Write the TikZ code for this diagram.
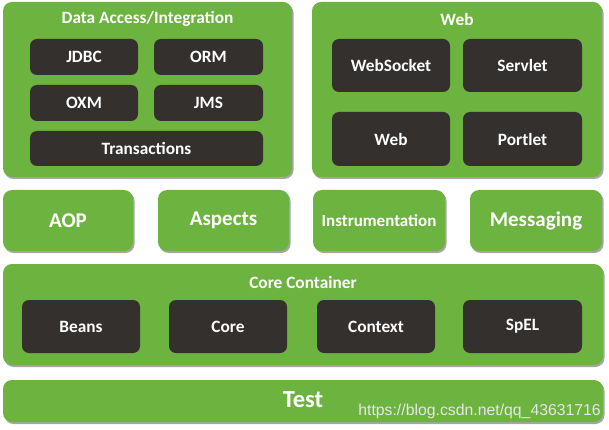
\documentclass[tikz,border=0pt]{standalone}
\usepackage{fontspec}
\setmainfont{Carlito}
\newfontfamily\wmfont{Liberation Sans}
\usetikzlibrary{shadows}
\definecolor{sgreen}{HTML}{6CB33F}
\definecolor{sdark}{HTML}{33302E}
\definecolor{wmgray}{HTML}{E6E6E6}
\tikzset{
  greenbox/.style={draw=none, fill=sgreen, rounded corners=9pt, inner sep=0pt,
    drop shadow={shadow xshift=1.5pt, shadow yshift=-2pt, opacity=0.35, fill=black}},
  darkbox/.style={draw=none, fill=sdark, rounded corners=7pt, inner sep=0pt,
    text=white, font=\bfseries\fontsize{17.3}{20}\selectfont},
  titletext/.style={text=white, inner sep=0pt, font=\bfseries\fontsize{17.3}{20}\selectfont},
  bigtext/.style={text=white, font=\bfseries\fontsize{21}{24}\selectfont}
}
\begin{document}
\begin{tikzpicture}[x=1pt,y=-1pt]
\useasboundingbox (0,0) rectangle (609,430);
% Data Access / Integration
\node[greenbox, minimum width=289pt, minimum height=175pt] (da) at (147.5,89.5) {};
\node[titletext] (datitle) at (147.5,19) {Data Access/Integration};
\node[darkbox, minimum width=108pt, minimum height=36pt] (jdbc) at (84,57) {JDBC};
\node[darkbox, minimum width=109pt, minimum height=36pt] (orm) at (208.5,57) {ORM};
\node[darkbox, minimum width=108pt, minimum height=36pt] (oxm) at (84,103) {OXM};
\node[darkbox, minimum width=109pt, minimum height=36pt] (jms) at (208.5,103) {JMS};
\node[darkbox, minimum width=233pt, minimum height=35pt] (tx) at (146.5,148.5) {Transactions};
% Web
\node[greenbox, minimum width=290pt, minimum height=175pt] (web) at (457,89.5) {};
\node[titletext] (webtitle) at (457,19) {Web};
\node[darkbox, minimum width=118pt, minimum height=53pt] (ws) at (391,65.5) {WebSocket};
\node[darkbox, minimum width=119pt, minimum height=53pt] (servlet) at (522.5,65.5) {Servlet};
\node[darkbox, minimum width=118pt, minimum height=54pt] (webm) at (391,139) {Web};
\node[darkbox, minimum width=119pt, minimum height=54pt] (portlet) at (522.5,139) {Portlet};
% middle row
\node[greenbox, bigtext, minimum width=130pt, minimum height=61pt] (aop) at (68,220.5) {AOP};
\node[greenbox, bigtext, minimum width=131pt, minimum height=61pt] (asp) at (223.5,220.5) {Aspects};
\node[greenbox, text=white, font=\bfseries\fontsize{17}{20}\selectfont, minimum width=132pt, minimum height=61pt] (ins) at (379,220.5) {Instrumentation};
\node[greenbox, bigtext, minimum width=132pt, minimum height=61pt] (msg) at (536,220.5) {Messaging};
% Core container
\node[greenbox, minimum width=600pt, minimum height=101pt] (cc) at (303,314.5) {};
\node[titletext] (cctitle) at (303,282) {Core Container};
\node[darkbox, minimum width=118pt, minimum height=53pt] (beans) at (81,326.5) {Beans};
\node[darkbox, minimum width=118pt, minimum height=53pt] (core) at (228,326.5) {Core};
\node[darkbox, minimum width=118pt, minimum height=53pt] (ctx) at (376,326.5) {Context};
\node[darkbox, minimum width=119pt, minimum height=53pt] (spel) at (522.5,326.5) {SpEL};
% Test
\node[greenbox, minimum width=600pt, minimum height=42pt] (test) at (303,401) {};
\node[text=white, inner sep=0pt, font=\bfseries\fontsize{24.5}{28}\selectfont] (testtxt) at (303,400) {Test};
\node[anchor=base east, inner sep=0pt, text=wmgray, font=\wmfont\fontsize{15.8}{18}\selectfont] (wm) at (601,415) {https://blog.csdn.net/qq\_43631716};
\end{tikzpicture}
\end{document}
